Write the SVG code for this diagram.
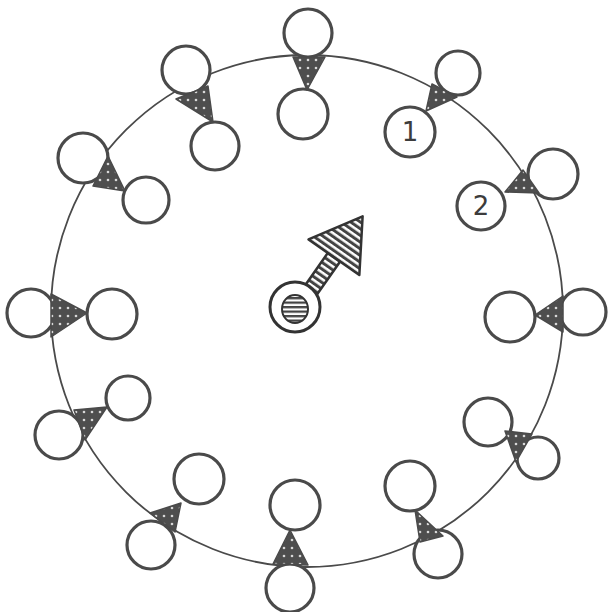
<svg xmlns="http://www.w3.org/2000/svg" width="610" height="612" viewBox="0 0 610 612">
  <defs>
    <pattern id="dots" width="8" height="8" patternUnits="userSpaceOnUse">
      <rect width="8" height="8" fill="#4e4e4e"/>
      <circle cx="4" cy="4" r="1.3" fill="#d8d8d8"/>
    </pattern>
    <pattern id="vstripe" width="5.5" height="5" patternUnits="userSpaceOnUse">
      <rect width="5.5" height="5" fill="#fff"/>
      <rect width="3" height="5" fill="#444"/>
    </pattern>
    <pattern id="hstripe" width="5" height="4.5" patternUnits="userSpaceOnUse">
      <rect width="5" height="4.5" fill="#fff"/>
      <rect width="5" height="2.3" fill="#444"/>
    </pattern>
  </defs>
  <style>
    .ring { fill: none; stroke: #4a4a4a; stroke-width: 1.8; }
    .c { fill: #fff; stroke: #4a4a4a; stroke-width: 3.2; }
    .t { fill: url(#dots); stroke: #4a4a4a; stroke-width: 1.5; stroke-linejoin: round; }
    .num { font-family: "DejaVu Sans", "Liberation Sans", sans-serif; font-size: 26px; fill: #3c3c3c; text-anchor: middle; }
  </style>
  <rect width="610" height="612" fill="#ffffff"/>
  <g id="connectors">
    <circle class="ring" cx="307" cy="311" r="256"/>
  </g>
  <g id="node-top">
    <circle class="c" cx="308" cy="33" r="24"/>
    <circle class="c" cx="303" cy="114" r="25"/>
    <polygon class="t" points="293,57 325,57 307,90"/>
  </g>
  <g id="node-1">
    <circle class="c" cx="458" cy="73" r="22"/>
    <circle class="c" cx="410" cy="132" r="25"/>
    <polygon class="t" points="432,84 457,97 426,111"/>
    <text class="num" x="410" y="141">1</text>
  </g>
  <g id="node-2">
    <circle class="c" cx="553" cy="174" r="25"/>
    <circle class="c" cx="481" cy="206" r="24"/>
    <polygon class="t" points="523,170 539,193 505,192"/>
    <text class="num" x="481" y="215">2</text>
  </g>
  <g id="node-3">
    <circle class="c" cx="583" cy="312" r="23"/>
    <circle class="c" cx="510" cy="317" r="25"/>
    <polygon class="t" points="563,296 563,332 535,315"/>
  </g>
  <g id="node-4">
    <circle class="c" cx="538" cy="458" r="21"/>
    <circle class="c" cx="488" cy="422" r="24"/>
    <polygon class="t" points="505,431 532,434 516,462"/>
  </g>
  <g id="node-5">
    <circle class="c" cx="438" cy="554" r="24"/>
    <circle class="c" cx="410" cy="486" r="25"/>
    <polygon class="t" points="415,510 443,536 420,542"/>
  </g>
  <g id="node-6">
    <circle class="c" cx="290" cy="588" r="24"/>
    <circle class="c" cx="295" cy="505" r="25"/>
    <polygon class="t" points="290,530 273,564 308,565"/>
  </g>
  <g id="node-7">
    <circle class="c" cx="151" cy="545" r="24"/>
    <circle class="c" cx="199" cy="479" r="25"/>
    <polygon class="t" points="150,513 181,503 175,532"/>
  </g>
  <g id="node-8">
    <circle class="c" cx="59" cy="435" r="24"/>
    <circle class="c" cx="128" cy="398" r="22"/>
    <polygon class="t" points="74,410 107,407 85,440"/>
  </g>
  <g id="node-9">
    <circle class="c" cx="31" cy="313" r="24"/>
    <circle class="c" cx="112" cy="314" r="25"/>
    <polygon class="t" points="51,294 51,337 87,313"/>
  </g>
  <g id="node-10">
    <circle class="c" cx="83" cy="158" r="25"/>
    <circle class="c" cx="146" cy="200" r="23"/>
    <polygon class="t" points="108,156 93,186 125,191"/>
  </g>
  <g id="node-11">
    <circle class="c" cx="186" cy="70" r="24"/>
    <circle class="c" cx="215" cy="146" r="24"/>
    <polygon class="t" points="176,99 208,86 213,122"/>
  </g>
  <g id="center">
    <g transform="translate(311,290) rotate(-55)">
      <rect x="0" y="-7.5" width="45" height="15" fill="url(#vstripe)" stroke="#333" stroke-width="2.5"/>
      <polygon points="40,-31 90,0 40,31" fill="url(#vstripe)" stroke="#333" stroke-width="2.5" stroke-linejoin="round"/>
    </g>
    <circle cx="295" cy="307" r="25" fill="#fff" stroke="#333" stroke-width="3"/>
    <ellipse cx="295" cy="309" rx="13" ry="14" fill="url(#hstripe)" stroke="#333" stroke-width="2"/>
  </g>
</svg>
